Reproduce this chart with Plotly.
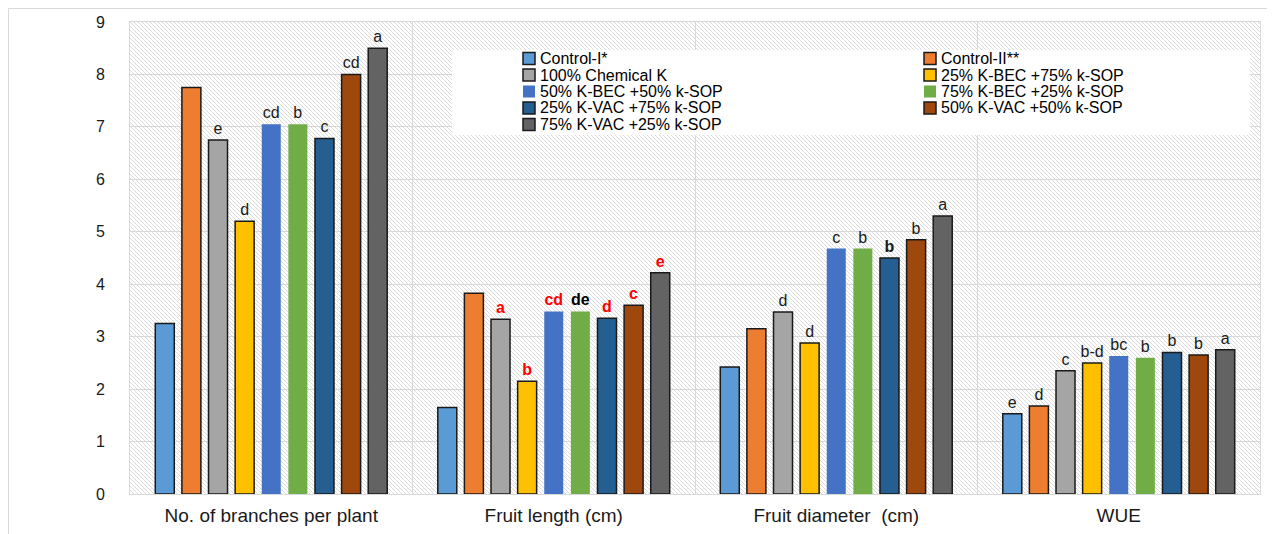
import base64
import plotly.graph_objects as go

# ---------------- data ----------------
categories = ["No. of branches per plant", "Fruit length (cm)", "Fruit diameter  (cm)", "WUE"]

series_names = [
    "Control-I*", "Control-II**", "100% Chemical K", "25% K-BEC +75% k-SOP",
    "50% K-BEC +50% k-SOP", "75% K-BEC +25% k-SOP", "25% K-VAC +75% k-SOP",
    "50% K-VAC +50% k-SOP", "75% K-VAC +25% k-SOP",
]

control_I = [3.25, 1.65, 2.42, 1.53]
control_II = [7.75, 3.83, 3.15, 1.68]
chemical_100 = [6.75, 3.33, 3.47, 2.35]
bec_25 = [5.20, 2.15, 2.88, 2.50]
bec_50 = [7.05, 3.48, 4.68, 2.63]
bec_75 = [7.05, 3.48, 4.68, 2.60]
vac_25 = [6.78, 3.35, 4.50, 2.70]
vac_50 = [8.00, 3.60, 4.85, 2.65]
vac_75 = [8.50, 4.22, 5.30, 2.75]

lab_control_I = ["", "", "", "e"]
lab_control_II = ["", "", "", "d"]
lab_chemical_100 = ["e", "a", "d", "c"]
lab_bec_25 = ["d", "b", "d", "b-d"]
lab_bec_50 = ["cd", "cd", "c", "bc"]
lab_bec_75 = ["b", "de", "b", "b"]
lab_vac_25 = ["c", "d", "b", "b"]
lab_vac_50 = ["cd", "c", "b", "b"]
lab_vac_75 = ["a", "e", "a", "a"]

y_ticks = [0, 1, 2, 3, 4, 5, 6, 7, 8, 9]

# ---------------- styles ----------------
colors = ["#5B9BD5", "#ED7D31", "#A5A5A5", "#FFC000", "#4472C4",
          "#70AD47", "#255E91", "#9E480E", "#636363"]
outlined = [True, True, True, True, False, False, True, True, True]

values = [control_I, control_II, chemical_100, bec_25, bec_50, bec_75, vac_25, vac_50, vac_75]
labels = [lab_control_I, lab_control_II, lab_chemical_100, lab_bec_25, lab_bec_50,
          lab_bec_75, lab_vac_25, lab_vac_50, lab_vac_75]

FONT = "Liberation Sans, Arial, sans-serif"
TXT = "#1a1a1a"
GRID = "#D9D9D9"

# the page body adds an 8px offset; figure sized to reach the window edges
OFF = 8
W, H = 1267, 526
ML, MT = 130 - OFF, 22 - OFF
PW, PH = 1130, 472
MR, MB = W - ML - PW, H - MT - PH


def px_x(p):  # page pixel -> paper x
    return (p - OFF - ML) / PW


def px_y(p):  # page pixel -> paper y
    return (MT + PH - (p - OFF)) / PH


fig = go.Figure()

for i, (name, vals, labs) in enumerate(zip(series_names, values, labels)):
    texts, tcolors = [], []
    for j, lab in enumerate(labs):
        if j == 1:  # fruit length: bold labels, red except "de"
            texts.append(f"<b>{lab}</b>" if lab else "")
            tcolors.append("#000000" if lab == "de" else "#FF0000")
        elif j == 2 and name == "25% K-VAC +75% k-SOP":
            texts.append(f"<b>{lab}</b>")
            tcolors.append(TXT)
        else:
            texts.append(lab)
            tcolors.append(TXT)
    fig.add_trace(go.Bar(
        name=name, x=categories, y=vals,
        marker=dict(color=colors[i],
                    line=dict(color="#1a1a1a", width=1.5 if outlined[i] else 0)),
        text=texts, textposition="outside", constraintext="none",
        textfont=dict(family=FONT, size=16, color=tcolors),
        cliponaxis=False, showlegend=False,
    ))

# hatched plot background
svg = (f"<svg xmlns='http://www.w3.org/2000/svg' width='{PW}' height='{PH}'>"
       "<defs><pattern id='p' width='4' height='4' patternUnits='userSpaceOnUse'>"
       "<rect width='4' height='4' fill='white'/>"
       "<path d='M-1,-1 L5,5 M-1,3 L1,5 M3,-1 L5,1' stroke='#D2D2D2' stroke-width='0.8'/>"
       "</pattern></defs><rect width='100%' height='100%' fill='url(#p)'/></svg>")
src = "data:image/svg+xml;base64," + base64.b64encode(svg.encode()).decode()

shapes = [
    # outer chart frame
    dict(type="rect", xref="paper", yref="paper", x0=px_x(8.5), x1=px_x(1300),
         y0=px_y(600), y1=px_y(8.5), line=dict(color=GRID, width=1), layer="below"),
    # legend box
    dict(type="rect", xref="paper", yref="paper", x0=px_x(452), x1=px_x(1250),
         y0=px_y(135), y1=px_y(50), fillcolor="white", line=dict(width=0), layer="above"),
]

annotations = []
row_y = [58.5, 75, 91.5, 108, 124.5]
col_x = [523, 924]
for k, name in enumerate(series_names):
    r, c = divmod(k, 2)
    cy = row_y[r]
    sx = col_x[c]
    shapes.append(dict(
        type="rect", xref="paper", yref="paper",
        x0=px_x(sx), x1=px_x(sx + 12), y0=px_y(cy + 6), y1=px_y(cy - 6),
        fillcolor=colors[k],
        line=dict(color="#1a1a1a", width=1.5 if outlined[k] else 0), layer="above"))
    annotations.append(dict(
        text=name, xref="paper", yref="paper", x=px_x(sx + 16), y=px_y(cy),
        xanchor="left", yanchor="middle", showarrow=False, borderpad=0,
        font=dict(family=FONT, size=16, color="#000000")))

fig.update_layout(
    width=W, height=H,
    margin=dict(l=ML, r=MR, t=MT, b=MB, autoexpand=False),
    paper_bgcolor="white", plot_bgcolor="white",
    barmode="group", bargap=0.152, bargroupgap=0.286,
    font=dict(family=FONT, color=TXT),
    showlegend=False,
    images=[dict(source=src, xref="paper", yref="paper", x=0, y=1, sizex=1, sizey=1,
                 xanchor="left", yanchor="top", sizing="stretch", layer="below")],
    shapes=shapes, annotations=annotations,
)
fig.update_xaxes(type="category", tickson="boundaries", showgrid=True, gridcolor=GRID,
                 gridwidth=1, ticks="", showline=True, mirror=True, linecolor=GRID,
                 tickfont=dict(family=FONT, size=19, color=TXT), ticklabelstandoff=4)
fig.update_yaxes(range=[0, 9], tickvals=y_ticks, showgrid=True, gridcolor=GRID, gridwidth=1,
                 zeroline=False, showline=True, mirror=True, linecolor=GRID, ticks="",
                 tickfont=dict(family=FONT, size=16, color=TXT), ticklabelstandoff=21)

fig.write_html("out.html")
